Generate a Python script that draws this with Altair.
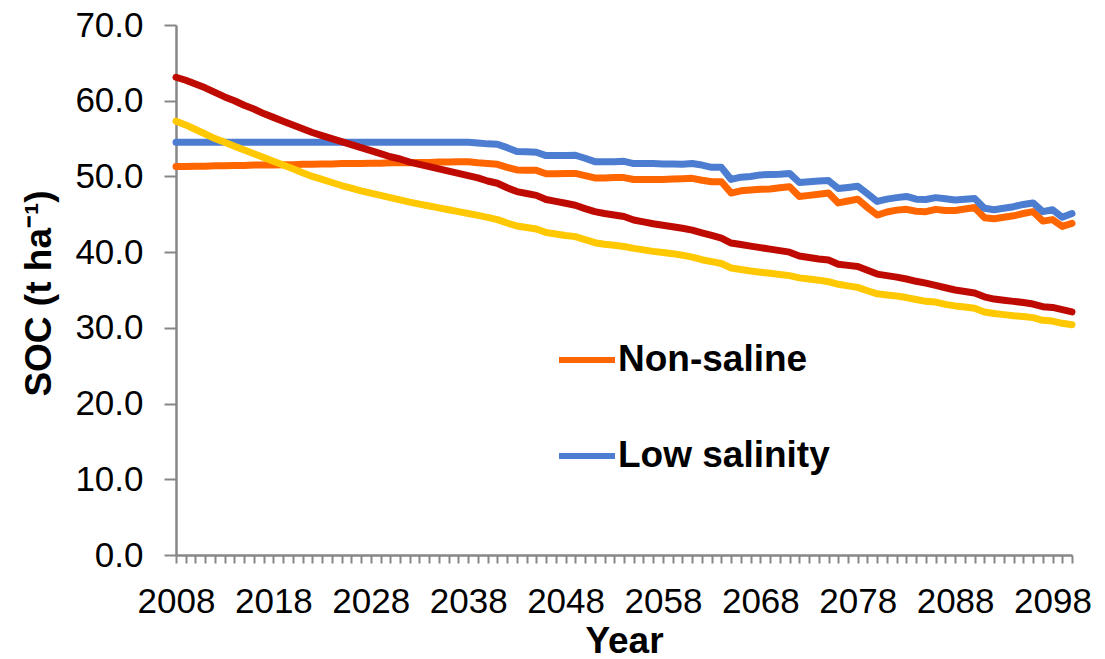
import altair as alt
import pandas as pd

# Simulated soil organic carbon stock (t/ha), yearly 2008-2100
years = list(range(2008, 2101))

non_saline = [
    51.3, 51.3, 51.35, 51.35, 51.4, 51.4, 51.45, 51.45, 51.5, 51.5,
    51.5, 51.55, 51.55, 51.6, 51.6, 51.65, 51.65, 51.7, 51.7, 51.7,
    51.75, 51.75, 51.8, 51.8, 51.8, 51.85, 51.85, 51.9, 51.9, 51.95,
    51.95, 51.8, 51.7, 51.6, 51.2, 50.85, 50.8, 50.8, 50.35, 50.35,
    50.4, 50.4, 50.1, 49.8, 49.8, 49.85, 49.85, 49.6, 49.6, 49.6,
    49.6, 49.65, 49.7, 49.75, 49.5, 49.3, 49.3, 47.8, 48.1, 48.2,
    48.3, 48.35, 48.5, 48.65, 47.35, 47.5, 47.65, 47.8, 46.5, 46.75,
    47.0, 45.9, 44.9, 45.3, 45.55, 45.65, 45.4, 45.35, 45.65, 45.5,
    45.5, 45.7, 45.9, 44.55, 44.4, 44.6, 44.8, 45.1, 45.35, 44.1,
    44.3, 43.4, 43.8,
]

low_salinity = [
    54.5, 54.5, 54.5, 54.5, 54.5, 54.5, 54.5, 54.5, 54.5, 54.5,
    54.5, 54.5, 54.5, 54.5, 54.5, 54.5, 54.5, 54.5, 54.5, 54.5,
    54.5, 54.5, 54.5, 54.5, 54.5, 54.5, 54.5, 54.5, 54.5, 54.5,
    54.5, 54.4, 54.3, 54.25, 53.8, 53.3, 53.25, 53.2, 52.75, 52.75,
    52.75, 52.8, 52.4, 51.95, 51.95, 51.95, 52.0, 51.7, 51.7, 51.7,
    51.65, 51.65, 51.6, 51.7, 51.5, 51.2, 51.2, 49.6, 49.9, 50.0,
    50.2, 50.25, 50.3, 50.4, 49.2, 49.3, 49.4, 49.45, 48.4, 48.55,
    48.7, 47.7, 46.7, 47.0, 47.2, 47.35, 47.0, 46.95, 47.2, 47.05,
    46.9, 47.0, 47.1, 45.8, 45.6, 45.8, 46.0, 46.3, 46.5, 45.35,
    45.6, 44.6, 45.1,
]

series_c = [
    63.1, 62.7, 62.2, 61.7, 61.1, 60.5, 60.0, 59.4, 58.9, 58.3,
    57.8, 57.3, 56.8, 56.3, 55.8, 55.4, 55.0, 54.6, 54.2, 53.8,
    53.4, 53.0, 52.6, 52.3, 51.9, 51.6, 51.3, 51.0, 50.7, 50.4,
    50.1, 49.8, 49.4, 49.1, 48.5, 48.0, 47.75, 47.5, 46.95, 46.7,
    46.45, 46.2, 45.75, 45.35, 45.1, 44.9, 44.7, 44.25, 44.0, 43.75,
    43.55, 43.35, 43.15, 42.9, 42.55, 42.2, 41.85, 41.2, 41.0, 40.8,
    40.6, 40.4, 40.2, 40.0, 39.5, 39.3, 39.1, 38.95, 38.4, 38.25,
    38.1, 37.6, 37.1, 36.9, 36.7, 36.45, 36.15, 35.9, 35.6, 35.3,
    35.0, 34.8, 34.6, 34.1, 33.8, 33.65, 33.5, 33.35, 33.15, 32.8,
    32.7, 32.4, 32.1,
]

series_d = [
    57.3, 56.8, 56.2, 55.6, 55.0, 54.5, 54.0, 53.5, 53.0, 52.5,
    52.0, 51.5, 51.0, 50.5, 50.0, 49.6, 49.2, 48.8, 48.45, 48.1,
    47.8, 47.5, 47.2, 46.9, 46.6, 46.35, 46.1, 45.85, 45.6, 45.35,
    45.1, 44.85, 44.6, 44.3, 43.85, 43.45, 43.25, 43.05, 42.6, 42.4,
    42.2, 42.05, 41.65, 41.25, 41.05, 40.9, 40.75, 40.5, 40.3, 40.1,
    39.95, 39.8, 39.6, 39.35, 39.0, 38.75, 38.5, 37.9, 37.7, 37.5,
    37.35, 37.2, 37.05, 36.9, 36.6, 36.45, 36.3, 36.1, 35.75, 35.55,
    35.35, 34.9, 34.5, 34.35, 34.2, 34.0, 33.75, 33.5, 33.4, 33.1,
    32.9, 32.75, 32.6, 32.1, 31.9, 31.75, 31.6, 31.5, 31.35, 31.0,
    30.9, 30.6, 30.4,
]

names = ["Non-saline", "Low salinity", "Series C", "Series D"]
colors = ["#FF6600", "#4D7DD1", "#BE0A00", "#FFC800"]
legend_names = ["Non-saline", "Low salinity"]
y_ticks = [0, 10, 20, 30, 40, 50, 60, 70]

frames = []
for name, vals in zip(names, [non_saline, low_salinity, series_c, series_d]):
    frames.append(pd.DataFrame({"Year": years, "SOC": vals, "Series": name}))
df = pd.concat(frames, ignore_index=True)

FONT = "Liberation Sans"
AXIS_GREY = "#878787"

x_enc = alt.X(
    "Year:Q",
    scale=alt.Scale(domain=[2008, 2100], nice=False, zero=False),
    axis=alt.Axis(
        values=years,
        labelExpr="(datum.value - 2008) % 10 == 0 ? '' + datum.value : ''",
        labelOverlap=False,
        labelFlush=False,
        labelFont=FONT,
        labelFontSize=35,
        labelColor="black",
        labelBaseline="alphabetic",
        labelPadding=49,
        tickSize=8,
        tickWidth=2,
        tickColor=AXIS_GREY,
        domainColor=AXIS_GREY,
        domainWidth=2.5,
        grid=False,
        title="Year",
        titleFont=FONT,
        titleFontSize=37,
        titleFontWeight="bold",
        titleColor="black",
        titleBaseline="alphabetic",
        titleAlign="center",
        titleX=448,
        titleY=97,
    ),
)

y_enc = alt.Y(
    "SOC:Q",
    scale=alt.Scale(domain=[0, 70], nice=False, zero=True),
    axis=alt.Axis(
        values=y_ticks,
        format=".1f",
        labelFont=FONT,
        labelFontSize=35,
        labelColor="black",
        labelPadding=21,
        tickSize=12,
        tickWidth=2,
        tickColor=AXIS_GREY,
        domainColor=AXIS_GREY,
        domainWidth=2.5,
        grid=False,
        title="SOC (t ha⁻¹)",
        titleFont=FONT,
        titleFontSize=37,
        titleFontWeight="bold",
        titleColor="black",
        titleAngle=270,
        titleBaseline="alphabetic",
        titleAlign="center",
        titleX=-126,
        titleY=268,
    ),
)

color_enc = alt.Color(
    "Series:N",
    scale=alt.Scale(domain=names, range=colors),
    legend=alt.Legend(
        values=legend_names,
        orient="none",
        legendX=380,
        legendY=304,
        title=None,
        symbolType="stroke",
        symbolSize=3136,
        symbolStrokeWidth=6,
        labelFont=FONT,
        labelFontSize=37,
        labelFontWeight="bold",
        labelColor="black",
        labelOffset=0,
        rowPadding=47,
        padding=0,
        labelLimit=400,
    ),
)

base = alt.Chart(df).mark_line(strokeWidth=7, strokeCap="round", strokeJoin="round")

# one layer per series so later series draw on top of earlier ones
layers = [
    base.transform_filter(alt.datum.Series == name).encode(x=x_enc, y=y_enc, color=color_enc)
    for name in names
]

chart = (
    alt.layer(*layers)
    .properties(
        width=896,
        height=530,
        autosize=alt.AutoSizeParams(type="none"),
        padding={"left": 176, "top": 25, "right": 33, "bottom": 104},
        background="white",
    )
    .configure_view(stroke=None)
)

chart.save("out.html", embed_options={"renderer": "svg", "actions": False})
